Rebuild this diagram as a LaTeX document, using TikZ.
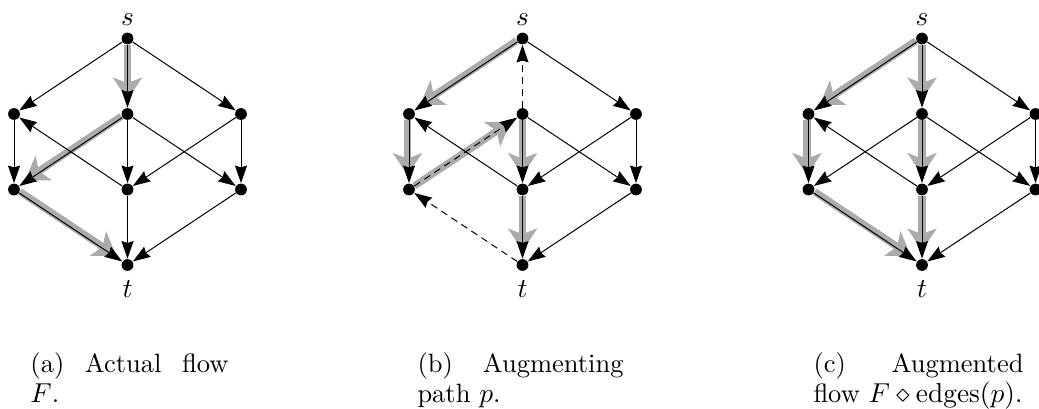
\documentclass[tikz,border=0pt]{standalone}
\usetikzlibrary{arrows.meta}
\pgfdeclarelayer{hlayer}
\pgfdeclarelayer{elayer}
\pgfsetlayers{hlayer,elayer,main}
\tikzset{
  every node/.append style={font=\fontsize{10.6pt}{12.7pt}\selectfont},
  dot/.style={circle,fill=black,inner sep=0pt,minimum size=4.7pt},
  lbl/.style={anchor=base,inner sep=0pt},
  captext/.style={anchor=base west,inner sep=0pt},
  e/.style={line width=0.4pt,-{Stealth[length=7pt,width=4.8pt,inset=0.7pt]}},
  de/.style={e,dash pattern=on 2.8pt off 2pt},
  hl/.style={line width=2.9pt,color=black!33,-{Stealth[length=8.8pt,width=11.6pt,inset=2.2pt]},shorten >=3.2pt},
}
\newcommand\placegraph[2]{%
  \node[dot] (#1s)  at (#2,38.5) {};
  \node[dot] (#1l1) at (#2-113.5,114) {};
  \node[dot] (#1m1) at (#2,114) {};
  \node[dot] (#1r1) at (#2+113.5,114) {};
  \node[dot] (#1l2) at (#2-113.5,189.5) {};
  \node[dot] (#1m2) at (#2,189.5) {};
  \node[dot] (#1r2) at (#2+113.5,189.5) {};
  \node[dot] (#1t)  at (#2,265) {};
  \node[lbl] (#1sl) at (#2,25) {$s$};
  \node[lbl] (#1tl) at (#2,297) {$t$};
}
\begin{document}
\begin{tikzpicture}[x=0.4pt,y=-0.4pt]
\useasboundingbox (0,0) rectangle (1039,408);
\placegraph{a}{127.5}
\placegraph{b}{522.5}
\placegraph{c}{922}

\begin{pgfonlayer}{elayer}
% (a) actual flow
\draw[e] (as) -- (al1);
\draw[e] (as) -- (am1);
\draw[e] (as) -- (ar1);
\draw[e] (al1) -- (al2);
\draw[e] (am1) -- (al2);
\draw[e] (am1) -- (am2);
\draw[e] (am1) -- (ar2);
\draw[e] (am2) -- (al1);
\draw[e] (ar1) -- (am2);
\draw[e] (ar1) -- (ar2);
\draw[e] (al2) -- (at);
\draw[e] (am2) -- (at);
\draw[e] (ar2) -- (at);
% (b) augmenting path
\draw[e] (bs) -- (bl1);
\draw[de] (bm1) -- (bs);
\draw[e] (bs) -- (br1);
\draw[e] (bl1) -- (bl2);
\draw[de] (bl2) -- (bm1);
\draw[e] (bm1) -- (bm2);
\draw[e] (bm1) -- (br2);
\draw[e] (bm2) -- (bl1);
\draw[e] (br1) -- (bm2);
\draw[e] (br1) -- (br2);
\draw[de] (bt) -- (bl2);
\draw[e] (bm2) -- (bt);
\draw[e] (br2) -- (bt);
% (c) augmented flow
\draw[e] (cs) -- (cl1);
\draw[e] (cs) -- (cm1);
\draw[e] (cs) -- (cr1);
\draw[e] (cl1) -- (cl2);
\draw[e] (cm1) -- (cl2);
\draw[e] (cm1) -- (cm2);
\draw[e] (cm1) -- (cr2);
\draw[e] (cm2) -- (cl1);
\draw[e] (cr1) -- (cm2);
\draw[e] (cr1) -- (cr2);
\draw[e] (cl2) -- (ct);
\draw[e] (cm2) -- (ct);
\draw[e] (cr2) -- (ct);
\end{pgfonlayer}

\begin{pgfonlayer}{hlayer}
% (a)
\draw[hl] (as) -- (am1);
\draw[hl,transform canvas={shift={(-0.33pt,0.5pt)}}] (am1) -- (al2);
\draw[hl,transform canvas={shift={(0.33pt,0.5pt)}}] (al2) -- (at);
% (b)
\draw[hl,transform canvas={shift={(-0.33pt,0.5pt)}}] (bs) -- (bl1);
\draw[hl,transform canvas={shift={(-0.6pt,0pt)}}] (bl1) -- (bl2);
\draw[hl] (bl2) -- (bm1);
\draw[hl] (bm1) -- (bm2);
\draw[hl] (bm2) -- (bt);
% (c)
\draw[hl,transform canvas={shift={(-0.33pt,0.5pt)}}] (cs) -- (cl1);
\draw[hl] (cs) -- (cm1);
\draw[hl,transform canvas={shift={(-0.6pt,0pt)}}] (cl1) -- (cl2);
\draw[hl] (cm1) -- (cm2);
\draw[hl,transform canvas={shift={(0.33pt,0.5pt)}}] (cl2) -- (ct);
\draw[hl] (cm2) -- (ct);
\end{pgfonlayer}

% captions
\node[captext] (capa1) at (30,372) {\makebox[79.2pt][s]{(a) Actual flow}};
\node[captext] (capa2) at (30,402) {$F$.};
\node[captext] (capb1) at (417,372) {\makebox[82.4pt][s]{(b) Augmenting}};
\node[captext] (capb2) at (417,402) {path $p$.};
\node[captext] (capc1) at (813,372) {\makebox[84pt][s]{(c) Augmented}};
\node[captext] (capc2) at (813,402) {flow $F\diamond\mathrm{edges}(p)$.};
\end{tikzpicture}
\end{document}
